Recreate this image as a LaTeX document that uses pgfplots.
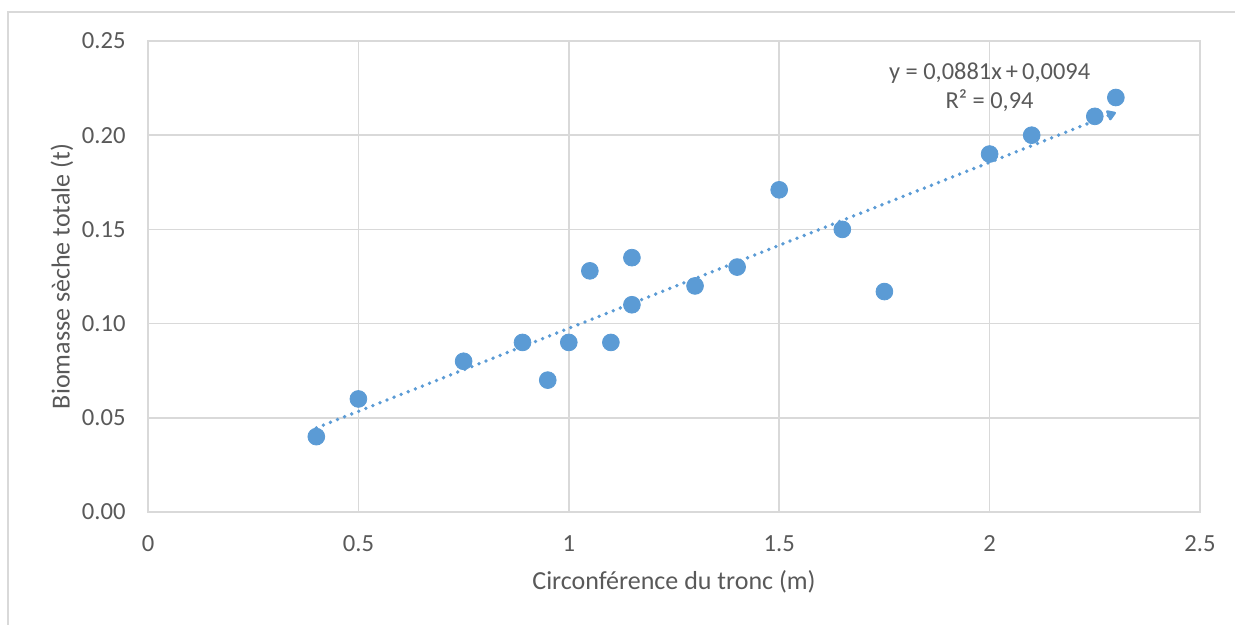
\documentclass[border=0pt]{standalone}
\usepackage{fontspec}
\setmainfont{Carlito}
\usepackage{pgfplots}
\pgfplotsset{compat=1.18}
\usetikzlibrary{arrows.meta}
\definecolor{ptblue}{HTML}{5B9BD5}
\definecolor{gridgray}{HTML}{D9D9D9}
\definecolor{txtgray}{HTML}{595959}
\begin{document}
\begin{tikzpicture}
\path[use as bounding box] (0,0) rectangle (617.5pt,312.5pt);
\draw[gridgray, line width=0.8pt] (4pt,0) -- (4pt,306.5pt) -- (617.5pt,306.5pt);
\begin{axis}[
  at={(74pt,56.5pt)}, anchor=south west,
  scale only axis, width=526pt, height=235.5pt,
  xmin=0, xmax=2.5, ymin=0, ymax=0.25,
  xtick={0,0.5,1,1.5,2,2.5},
  xticklabels={0,0.5,1,1.5,2,2.5},
  ytick={0,0.05,0.1,0.15,0.2,0.25},
  yticklabels={0.00,0.05,0.10,0.15,0.20,0.25},
  major tick length=0pt,
  grid=major,
  grid style={gridgray, line width=0.75pt},
  axis line style={gridgray, line width=0.75pt},
  tick label style={font=\fontsize{12.3}{14}\selectfont, text=txtgray},
  xticklabel style={anchor=north, inner sep=0pt, yshift=-11.5pt},
  yticklabel style={anchor=east, inner sep=0pt, xshift=-11pt},
  every axis x label/.style={at={(axis description cs:0.5,0)}, anchor=center, yshift=-35pt, font=\fontsize{13}{15}\selectfont, text=txtgray},
  every axis y label/.style={at={(axis description cs:0,0.5)}, anchor=center, rotate=90, yshift=43pt, font=\fontsize{13}{15}\selectfont, text=txtgray},
  xlabel={Circonférence du tronc (m)},
  ylabel={Biomasse sèche totale (t)},
  clip=false,
]
\addplot[only marks, mark=*, mark size=4.2pt, mark options={fill=ptblue, draw=ptblue}] coordinates {
(0.40,0.040) (0.50,0.060) (0.75,0.080) (0.89,0.090) (0.95,0.070)
(1.00,0.090) (1.05,0.128) (1.10,0.090) (1.15,0.135) (1.15,0.110)
(1.30,0.120) (1.40,0.130) (1.50,0.171) (1.65,0.150) (1.75,0.117)
(2.00,0.190) (2.10,0.200) (2.25,0.210) (2.30,0.220)
};
\addplot[ptblue, line width=1.9pt, line cap=round, dash pattern=on 0pt off 3.8pt, -{Triangle[length=5pt,width=6pt,round]}] coordinates {
(0.40,0.04464) (2.30,0.21203)
};
\node[align=center, font=\fontsize{12.2}{14.5}\selectfont, text=txtgray] at (axis cs:2.0,0.2255) {y = 0,0881x\,+\,0,0094\\R² = 0,94};
\end{axis}
\end{tikzpicture}
\end{document}
